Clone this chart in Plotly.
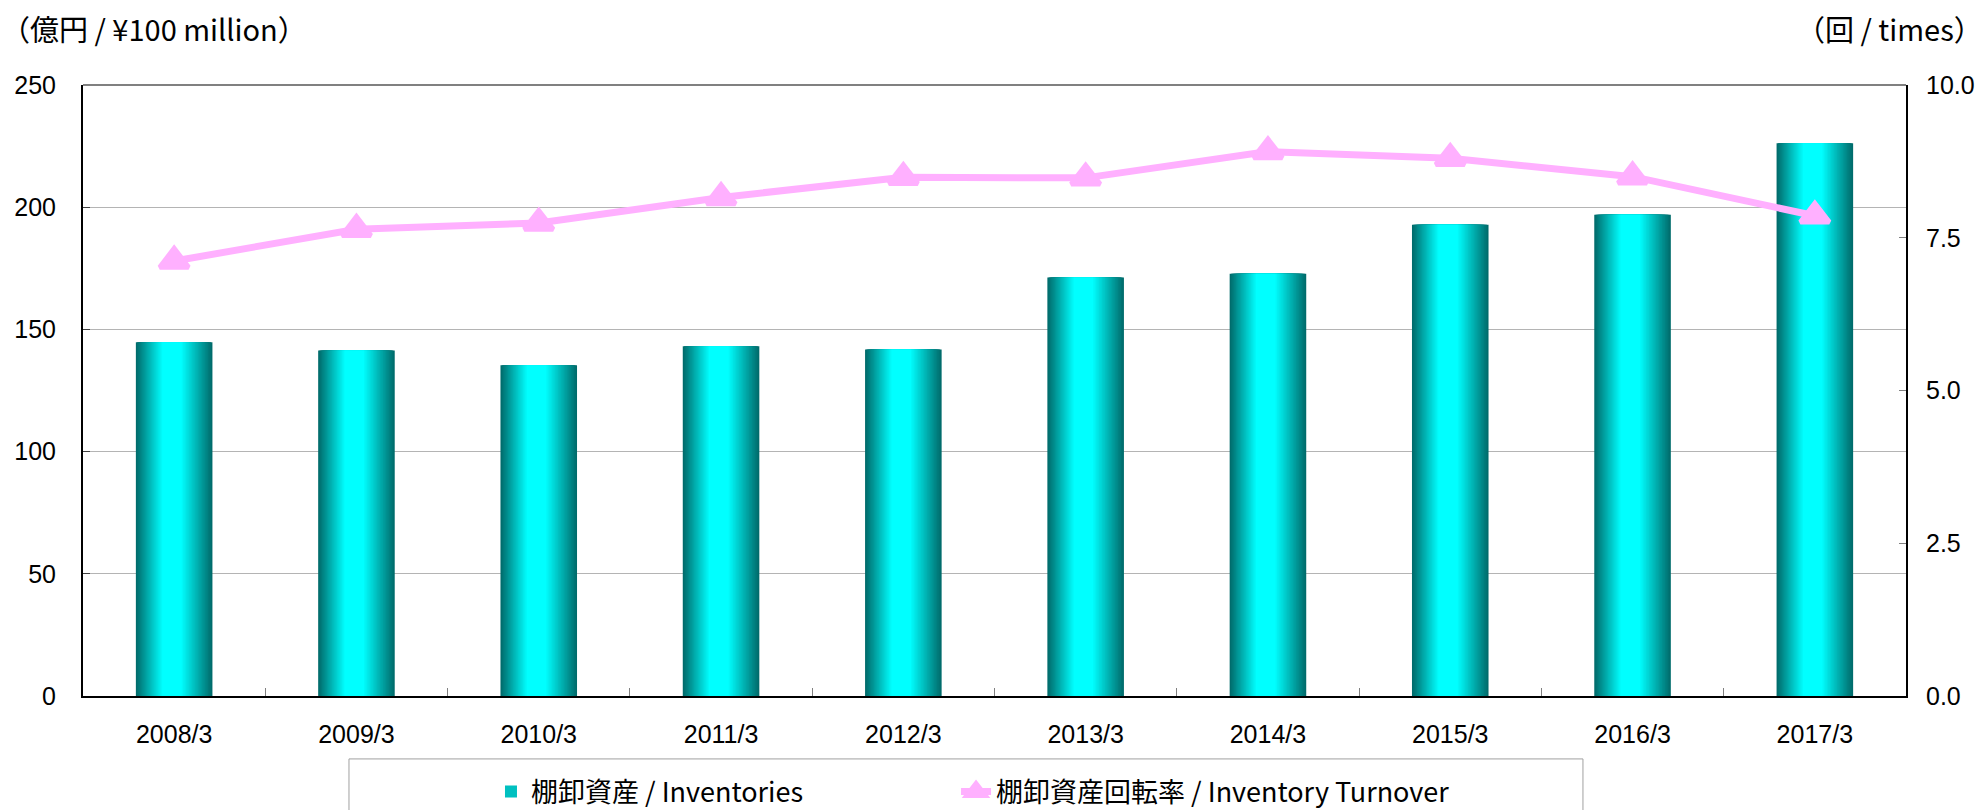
import plotly.graph_objects as go

# ---- data ----
categories = ["2008/3", "2009/3", "2010/3", "2011/3", "2012/3",
              "2013/3", "2014/3", "2015/3", "2016/3", "2017/3"]
inventories = [144.7, 141.4, 135.3, 143.1, 141.8, 171.2, 172.8, 192.8, 196.9, 226.2]
turnover = [7.12, 7.64, 7.74, 8.16, 8.49, 8.48, 8.91, 8.80, 8.50, 7.86]
left_ticks = [0, 50, 100, 150, 200, 250]
right_ticks = [0, 2.5, 5, 7.5, 10]

name_bar = "棚卸資産 / Inventories"
name_line = "棚卸資産回転率 / Inventory Turnover"

FONT = "Liberation Sans, Noto Sans CJK JP, sans-serif"
CJK = "Noto Sans CJK JP, Liberation Sans, sans-serif"

fig = go.Figure()

# gradient bars built from overlaid layers of decreasing width
W = 0.42
N = 22
dark = (0, 108, 108)
light = (0, 255, 255)
left_frac, right_frac = 0.36, 0.42
for k in range(N):
    t = k / (N - 1)
    col = "rgb({},{},{})".format(*[round(d + (l - d) * t) for d, l in zip(dark, light)])
    a = left_frac * W * k / N
    b = right_frac * W * k / N
    fig.add_trace(go.Bar(
        x=categories, y=inventories,
        width=[W - a - b] * len(categories),
        offset=[-W / 2 + a] * len(categories),
        marker=dict(color=col, line=dict(width=0)),
        name=name_bar,
        showlegend=(k == 12),
        legend="legend",
        hoverinfo="skip",
    ))

fig.add_trace(go.Scatter(
    x=categories, y=turnover, yaxis="y2",
    mode="lines+markers",
    line=dict(color="#FFB0FF", width=7),
    marker=dict(symbol="triangle-up", size=25, color="#FFB0FF",
                line=dict(color="#FFB0FF", width=5)),
    name=name_line,
    legend="legend2",
    hoverinfo="skip",
))

legend_common = dict(
    orientation="h", y=-0.157, yanchor="middle", xanchor="left",
    font=dict(family=CJK, size=27, color="black"),
    bgcolor="rgba(0,0,0,0)", borderwidth=0,
)

fig.update_layout(
    width=1986, height=810,
    margin=dict(l=83, r=80, t=85, b=114, autoexpand=False),
    paper_bgcolor="white", plot_bgcolor="white",
    barmode="overlay",
    font=dict(family=FONT, size=24, color="black"),
    showlegend=True,
    legend=dict(x=0.2238, **legend_common),
    legend2=dict(x=0.4789, **legend_common),
    xaxis=dict(
        type="category", range=[-0.5, 9.5], automargin=False,
        showline=True, linecolor="black", linewidth=2,
        ticks="inside", tickson="boundaries", ticklen=8, tickcolor="#808080",
        ticklabelstandoff=15,
        tickfont=dict(family=FONT, size=25),
        showgrid=False, zeroline=False,
    ),
    yaxis=dict(
        range=[0, 250], tickvals=left_ticks, automargin=False,
        showline=True, linecolor="black", linewidth=2,
        ticks="inside", ticklen=7, tickcolor="#404040",
        ticklabelstandoff=20,
        tickfont=dict(family=FONT, size=25),
        showgrid=True, gridcolor="#b4b4b4", gridwidth=1,
        zeroline=False,
    ),
    yaxis2=dict(
        range=[0, 10], tickvals=right_ticks, tickformat=".1f", automargin=False,
        overlaying="y", side="right",
        showline=True, linecolor="black", linewidth=2,
        ticks="inside", ticklen=7, tickcolor="#808080",
        ticklabelstandoff=13,
        tickfont=dict(family=FONT, size=25),
        showgrid=False, zeroline=False,
    ),
    annotations=[
        dict(text="（億円 / ¥100 million）", xref="paper", yref="paper",
             x=-0.046, y=1.093, xanchor="left", yanchor="middle",
             showarrow=False, font=dict(family=CJK, size=29, color="black")),
        dict(text="（回 / times）", xref="paper", yref="paper",
             x=1.0433, y=1.093, xanchor="right", yanchor="middle",
             showarrow=False, font=dict(family=CJK, size=29, color="black")),
    ],
    shapes=[
        dict(type="line", xref="paper", yref="paper", x0=0, x1=1, y0=1, y1=1,
             line=dict(color="#808080", width=2)),
        dict(type="rect", xref="paper", yref="paper",
             x0=0.1459, x1=0.8228, y0=-0.103, y1=-0.30,
             line=dict(color="#a0a0a0", width=1), fillcolor="rgba(0,0,0,0)"),
    ],
)

fig.write_html("out.html", config={"displayModeBar": False},
               post_script="document.body.style.margin='0px';document.body.style.overflow='hidden';")
